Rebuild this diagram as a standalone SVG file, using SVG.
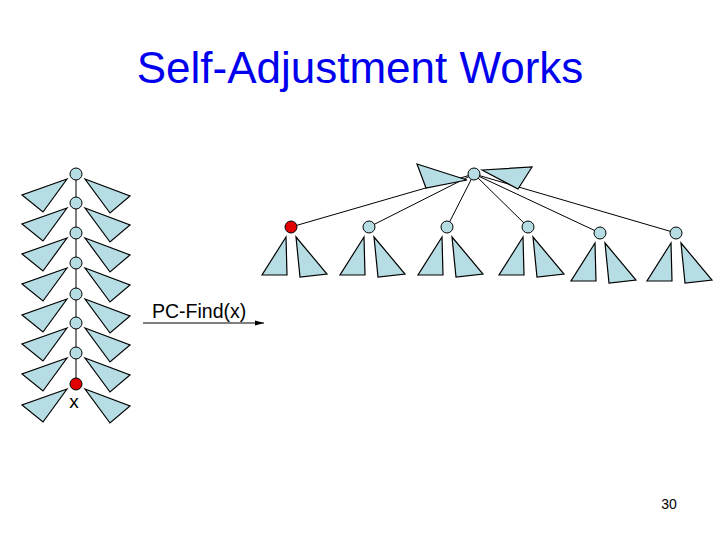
<svg xmlns="http://www.w3.org/2000/svg" xmlns:xlink="http://www.w3.org/1999/xlink" width="720" height="540" viewBox="0 0 720 540">
<defs>
<style>
.tri{fill:#b7dde4;stroke:#000;stroke-width:1.2;stroke-linejoin:miter}
.nd{fill:#b7dde4;stroke:#000;stroke-width:1}
.red{fill:#e00000;stroke:#000;stroke-width:1}
.ln{stroke:#000;stroke-width:1;fill:none}
.t{font-family:"Liberation Sans",Arial,sans-serif;fill:#000}
</style>
<g id="lpair">
<polygon class="tri" points="67,5 22,21 43,38"/>
<polygon class="tri" points="85,5 130,22 110,39"/>
</g>
<g id="dpair">
<polygon class="tri" points="-5,10 -29,48 -4,48"/>
<polygon class="tri" points="5,10 9,50 36,47"/>
</g>
<marker id="ah" markerWidth="10" markerHeight="8" refX="9" refY="4" orient="auto" markerUnits="userSpaceOnUse">
<polygon points="0,1.5 9,4 0,6.5" fill="#000"/>
</marker>
</defs>
<rect width="720" height="540" fill="#fff"/>
<text class="t" x="360" y="83" font-size="44" text-anchor="middle" style="fill:#0000ee">Self-Adjustment Works</text>

<g id="connectors">
<line class="ln" x1="76" y1="174" x2="76" y2="384"/>
<line class="ln" x1="474" y1="174" x2="291" y2="227"/>
<line class="ln" x1="474" y1="174" x2="369" y2="227"/>
<line class="ln" x1="474" y1="174" x2="447" y2="227"/>
<line class="ln" x1="474" y1="174" x2="528" y2="227"/>
<line class="ln" x1="474" y1="174" x2="600" y2="233"/>
<line class="ln" x1="474" y1="174" x2="676" y2="233"/>
<line class="ln" x1="143" y1="323" x2="264" y2="323" stroke-width="1.5" marker-end="url(#ah)"/>
</g>

<g id="chain">
<g id="c1"><use xlink:href="#lpair" y="174"/><circle class="nd" cx="76" cy="174" r="6"/></g>
<g id="c2"><use xlink:href="#lpair" y="203"/><circle class="nd" cx="76" cy="203" r="6"/></g>
<g id="c3"><use xlink:href="#lpair" y="233"/><circle class="nd" cx="76" cy="233" r="6"/></g>
<g id="c4"><use xlink:href="#lpair" y="263"/><circle class="nd" cx="76" cy="263" r="6"/></g>
<g id="c5"><use xlink:href="#lpair" y="294"/><circle class="nd" cx="76" cy="294" r="6"/></g>
<g id="c6"><use xlink:href="#lpair" y="323"/><circle class="nd" cx="76" cy="323" r="6"/></g>
<g id="c7"><use xlink:href="#lpair" y="353"/><circle class="nd" cx="76" cy="353" r="6"/></g>
<g id="c8"><use xlink:href="#lpair" y="384"/><circle class="red" cx="76" cy="384" r="6"/></g>
</g>
<text class="t" x="74" y="408" font-size="19" text-anchor="middle">x</text>

<g id="root">
<polygon class="tri" points="417,164 467,180 426,188"/>
<polygon class="tri" points="482,170 532,167 518,189"/>
<circle class="nd" cx="474" cy="174" r="6"/>
</g>
<g id="k1"><use xlink:href="#dpair" x="291" y="227"/><circle class="red" cx="291" cy="227" r="6"/></g>
<g id="k2"><use xlink:href="#dpair" x="369" y="227"/><circle class="nd" cx="369" cy="227" r="6"/></g>
<g id="k3"><use xlink:href="#dpair" x="447" y="227"/><circle class="nd" cx="447" cy="227" r="6"/></g>
<g id="k4"><use xlink:href="#dpair" x="528" y="227"/><circle class="nd" cx="528" cy="227" r="6"/></g>
<g id="k5"><use xlink:href="#dpair" x="600" y="233"/><circle class="nd" cx="600" cy="233" r="6"/></g>
<g id="k6"><use xlink:href="#dpair" x="676" y="233"/><circle class="nd" cx="676" cy="233" r="6"/></g>

<text class="t" x="152" y="318" font-size="19.5">PC-Find(x)</text>
<text class="t" x="669" y="509" font-size="14" text-anchor="middle">30</text>
</svg>
